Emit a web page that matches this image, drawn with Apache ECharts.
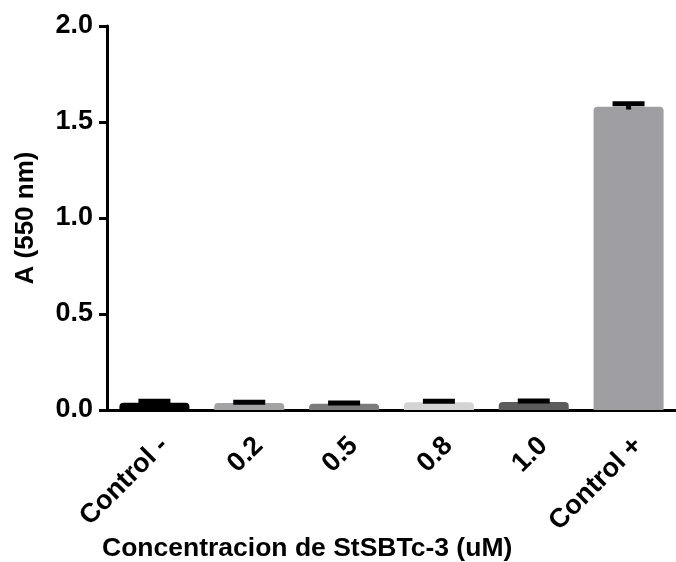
<!DOCTYPE html>
<html>
<head>
<meta charset="utf-8">
<script src="https://cdn.jsdelivr.net/npm/echarts@6/dist/echarts.min.js"></script>
<style>
html,body{margin:0;padding:0;background:#fff;}
#main{width:676px;height:562px;}
</style>
</head>
<body>
<div id="main"></div>
<script>
var categories = ['Control -', '0.2', '0.5', '0.8', '1.0', 'Control +'];
var means = [0.038, 0.036, 0.033, 0.041, 0.042, 1.58];
var sds = [0.008, 0.004, 0.004, 0.004, 0.005, 0.015];
var barColors = ['#000000', '#a3a3a5', '#7b7b7b', '#d4d4d4', '#5c5c5c', '#9e9ea3'];
var yTicks = [0, 0.5, 1.0, 1.5, 2.0];
var yTitle = 'A (550 nm)';
var xTitle = 'Concentracion de StSBTc-3 (uM)';

var FONT = 'Liberation Sans, Arial, Helvetica, sans-serif';
var chart = echarts.init(document.getElementById('main'), null, {renderer: 'canvas'});

var errData = categories.map(function (c, i) { return [i, means[i], sds[i]]; });

var option = {
  animation: false,
  backgroundColor: '#ffffff',
  grid: { left: 107, top: 26, width: 577, height: 384, containLabel: false },
  xAxis: {
    type: 'category',
    data: categories,
    boundaryGap: true,
    axisLine: { lineStyle: { color: '#000', width: 3 } },
    axisTick: { alignWithLabel: true, length: 10, lineStyle: { color: '#000', width: 3 } },
    axisLabel: {
      rotate: 45, margin: 22, color: '#000', fontSize: 27, fontWeight: 'bold',
      fontFamily: FONT, interval: 0, verticalAlign: 'top', align: 'right'
    },
    splitLine: { show: false }
  },
  yAxis: {
    type: 'value',
    min: yTicks[0], max: yTicks[yTicks.length - 1], interval: 0.5,
    name: yTitle,
    nameLocation: 'middle',
    nameGap: 68,
    nameTextStyle: { color: '#000', fontSize: 26, fontWeight: 'bold', fontFamily: FONT },
    axisLine: { show: true, lineStyle: { color: '#000', width: 3 } },
    axisTick: { show: true, length: 8, lineStyle: { color: '#000', width: 3 } },
    axisLabel: {
      margin: 14, color: '#000', fontSize: 27, fontWeight: 'bold', fontFamily: FONT,
      formatter: function (v) { return v.toFixed(1); }
    },
    splitLine: { show: false }
  },
  graphic: [{
    type: 'text', left: 102, top: 535,
    style: { text: xTitle, fill: '#000', font: 'bold 26.5px ' + FONT }
  }],
  series: [{
    type: 'bar',
    barWidth: 70,
    data: means.map(function (v, i) {
      return { value: v, itemStyle: { color: barColors[i], borderRadius: [4, 4, 0, 0] } };
    }),
    z: 2
  }, {
    type: 'custom',
    z: 3,
    data: errData,
    renderItem: function (params, api) {
      var x = api.value(0);
      var m = api.value(1);
      var s = api.value(2);
      var pTop = api.coord([x, m + s]);
      var pBot = api.coord([x, m - s]);
      var capW = 32, capH = 5, lineW = 5;
      return {
        type: 'group',
        children: [{
          type: 'rect',
          shape: { x: pTop[0] - lineW / 2, y: pTop[1], width: lineW, height: pBot[1] - pTop[1] },
          style: { fill: '#000' }
        }, {
          type: 'rect',
          shape: { x: pTop[0] - capW / 2, y: pTop[1] - capH / 2, width: capW, height: capH },
          style: { fill: '#000' }
        }]
      };
    }
  }]
};
chart.setOption(option);
</script>
</body>
</html>
